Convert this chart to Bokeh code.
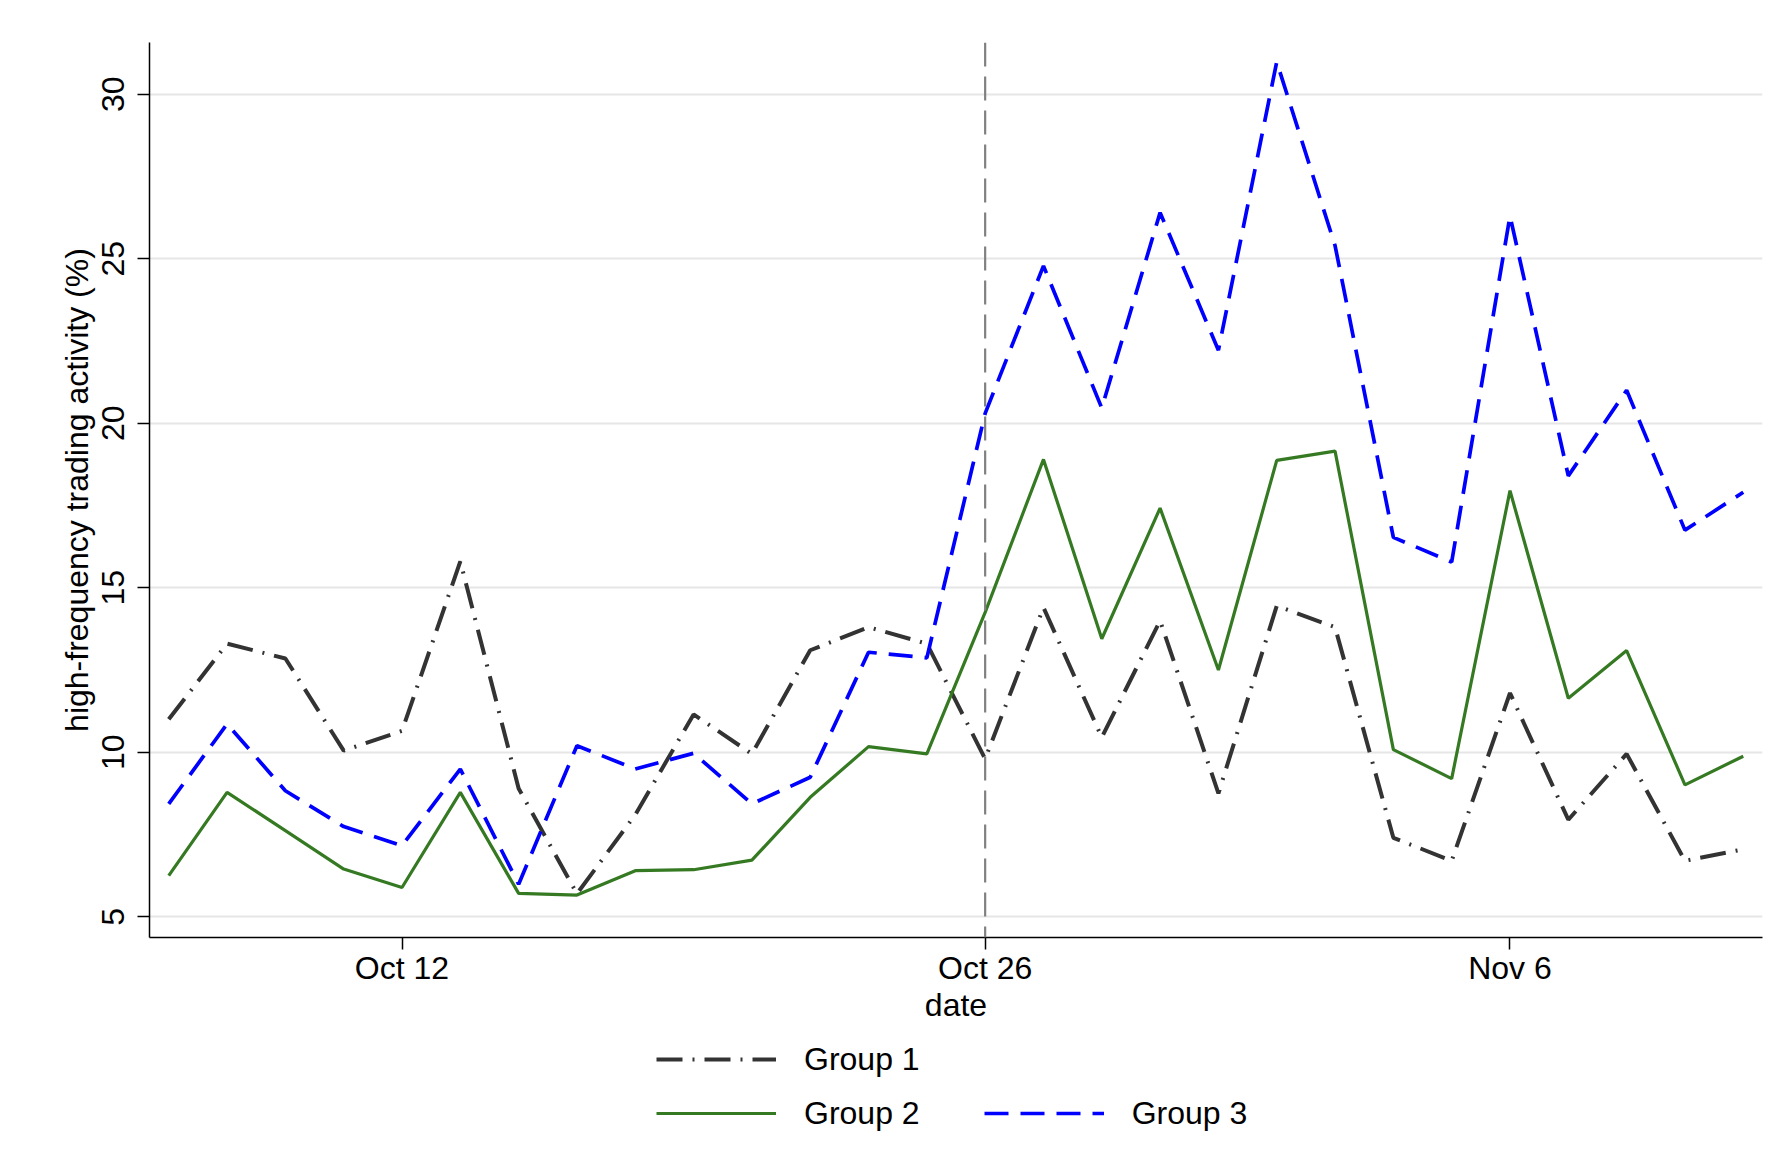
from bokeh.plotting import figure
from bokeh.layouts import column
from bokeh.models import Range1d, FixedTicker, Span, Legend, LegendItem
from bokeh.embed import file_html
from bokeh.resources import INLINE

# ---- data (business days) ----
dates = ["2020-10-06", "2020-10-07", "2020-10-08", "2020-10-09", "2020-10-12",
         "2020-10-13", "2020-10-14", "2020-10-15", "2020-10-16", "2020-10-19",
         "2020-10-20", "2020-10-21", "2020-10-22", "2020-10-23", "2020-10-26",
         "2020-10-27", "2020-10-28", "2020-10-29", "2020-10-30", "2020-11-02",
         "2020-11-03", "2020-11-04", "2020-11-05", "2020-11-06", "2020-11-09",
         "2020-11-10", "2020-11-11", "2020-11-12"]
group1 = [11.0, 13.3, 12.85, 10.05, 10.65, 15.8, 8.9, 5.7, 8.1, 11.15,
          9.95, 13.1, 13.8, 13.3, 9.8, 14.4, 10.45, 14.0, 8.75, 14.45,
          13.8, 7.4, 6.7, 11.8, 7.95, 9.95, 6.7, 7.05]
group2 = [6.25, 8.78, 7.62, 6.45, 5.89, 8.78, 5.71, 5.66, 6.40, 6.43,
          6.72, 8.63, 10.17, 9.95, 14.25, 18.9, 13.45, 17.42, 12.5, 18.87,
          19.15, 10.08, 9.2, 17.95, 11.64, 13.09, 9.01, 9.88]
group3 = [8.43, 10.86, 8.83, 7.74, 7.16, 9.49, 5.99, 10.2, 9.49, 9.97,
          8.43, 9.24, 13.04, 12.87, 20.3, 24.78, 20.46, 26.4, 22.22, 30.98,
          25.4, 16.53, 15.78, 26.3, 18.4, 21.0, 16.75, 17.9]
series_names = ["Group 1", "Group 2", "Group 3"]
tick_dates = ["2020-10-12", "2020-10-26", "2020-11-06"]
tick_labels = ["Oct 12", "Oct 26", "Nov 6"]
y_ticks = [5, 10, 15, 20, 25, 30]
event_date = "2020-10-26"

x = list(range(len(dates)))
series = [group1, group2, group3]
FONT = "Liberation Sans"
FS = "32px"

STYLES = [dict(line_color="#333333", line_width=4, line_dash="26 10 2 10"),
          dict(line_color="#357a22", line_width=3.2),
          dict(line_color="#0000ff", line_width=3.7, line_dash="24 12")]

p = figure(width=1780, height=1037, output_backend="svg", toolbar_location=None,
           x_range=Range1d(-0.33, 27.33), y_range=Range1d(4.37, 31.57),
           min_border_left=149, min_border_right=18, min_border_top=42,
           min_border_bottom=100)
p.outline_line_color = None
p.background_fill_color = "white"
p.border_fill_color = "white"
p.xgrid.visible = False
p.ygrid.grid_line_color = "#e6e6e6"
p.ygrid.grid_line_width = 2

# axes
p.xaxis.ticker = FixedTicker(ticks=[dates.index(d) for d in tick_dates])
p.xaxis.major_label_overrides = {dates.index(d): lab for d, lab in zip(tick_dates, tick_labels)}
p.yaxis.ticker = FixedTicker(ticks=y_ticks)
p.xaxis.axis_label = "date"
p.yaxis.axis_label = "high-frequency trading activity (%)"
p.yaxis.major_label_orientation = "vertical"
for ax in (p.xaxis, p.yaxis):
    ax.axis_line_color = "black"
    ax.axis_line_width = 1.5
    ax.major_tick_line_color = "black"
    ax.major_tick_line_width = 1.5
    ax.major_tick_out = 12
    ax.major_tick_in = 0
    ax.minor_tick_line_color = None
    ax.major_label_text_font = FONT
    ax.major_label_text_font_size = FS
    ax.major_label_text_color = "black"
    ax.axis_label_text_font = FONT
    ax.axis_label_text_font_size = FS
    ax.axis_label_text_font_style = "normal"
    ax.axis_label_text_color = "black"
p.xaxis.major_label_standoff = 0
p.xaxis.axis_label_standoff = -2
p.yaxis.major_label_standoff = 13
p.yaxis.axis_label_standoff = 5

# event line
p.add_layout(Span(location=dates.index(event_date), dimension="height",
                  line_color="#808080", line_width=2.2, line_dash="24 10"))

for ys, st in zip(series, STYLES):
    p.line(x, ys, **st)

# ---- legend strip (separate figure below the plot; its data lies outside its view) ----
pl = figure(width=1780, height=105, output_backend="svg", toolbar_location=None,
            x_range=Range1d(-200, -100), y_range=Range1d(-200, -100),
            x_axis_location=None, y_axis_location=None,
            min_border_left=149, min_border_right=18, min_border_top=0, min_border_bottom=0)
pl.outline_line_color = None
pl.grid.visible = False
proxies = [pl.line(x, ys, **st) for ys, st in zip(series, STYLES)]

def make_legend(items, loc):
    lg = Legend(items=items, location=loc, orientation="horizontal")
    lg.border_line_color = None
    lg.background_fill_alpha = 0
    lg.padding = 0
    lg.margin = 0
    lg.spacing = 64
    lg.glyph_width = 120
    lg.glyph_height = 40
    lg.label_height = 40
    lg.label_standoff = 28
    lg.label_text_font = FONT
    lg.label_text_font_size = FS
    lg.label_text_color = "black"
    lg.label_text_baseline = "middle"
    return lg

pl.add_layout(make_legend([LegendItem(label=series_names[0], renderers=[proxies[0]])], (507, 63)))
pl.add_layout(make_legend([LegendItem(label=series_names[1], renderers=[proxies[1]]),
                           LegendItem(label=series_names[2], renderers=[proxies[2]])], (507, 9)))

layout = column(p, pl, spacing=0)
open("out.html", "w").write(file_html(layout, INLINE))
